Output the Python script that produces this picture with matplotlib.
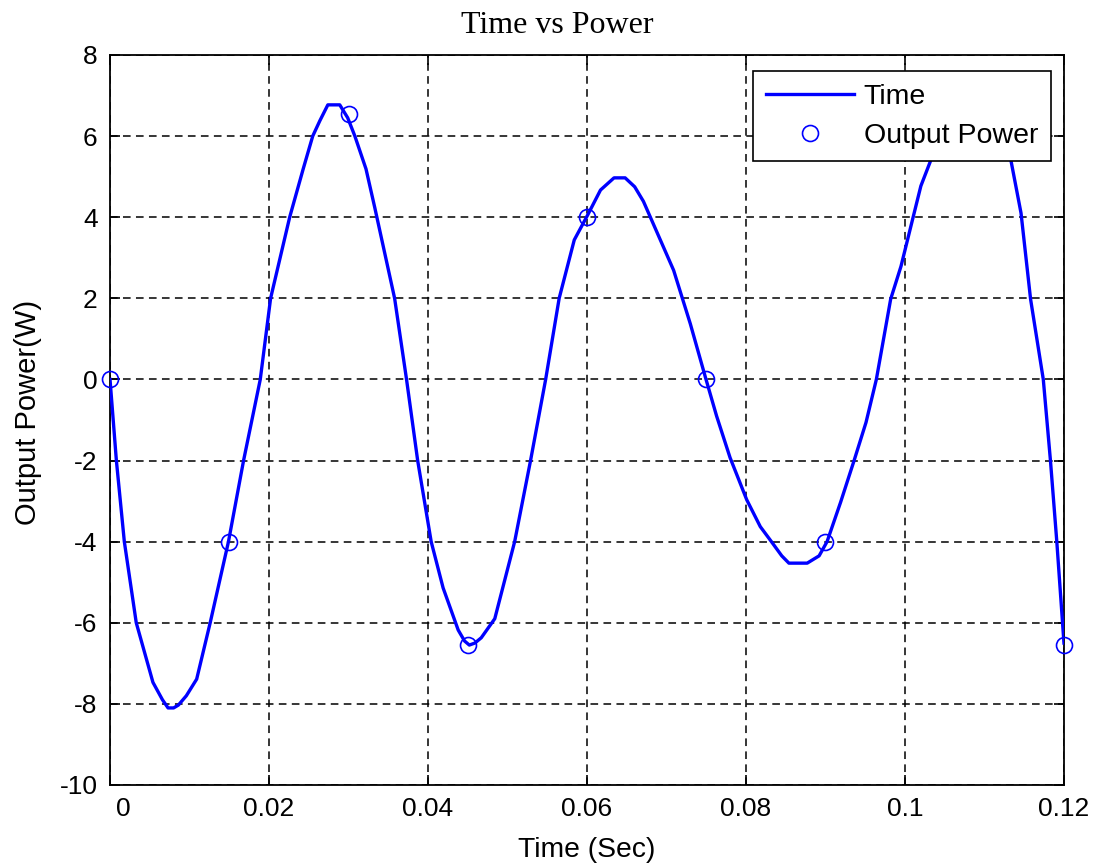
import matplotlib.pyplot as plt
import matplotlib.transforms as mtransforms

plt.rcParams.update({
    "font.family": "sans-serif", "font.sans-serif": ["Liberation Sans", "DejaVu Sans"],
    "font.size": 19, "axes.unicode_minus": False,
})

# curve (time in s, power in W)
curve_t = [0.0000, 0.0008, 0.0018, 0.0033, 0.0054, 0.0066, 0.0073, 0.0080, 0.0086,
           0.0096, 0.0109, 0.0126, 0.0149, 0.0168, 0.0189, 0.0202, 0.0226, 0.0243,
           0.0255, 0.0264, 0.0274, 0.0289, 0.0299, 0.0308, 0.0322, 0.0333, 0.0358,
           0.0373, 0.0387, 0.0404, 0.0419, 0.0438, 0.0446, 0.0452, 0.0459, 0.0467,
           0.0484, 0.0509, 0.0529, 0.0548, 0.0565, 0.0584, 0.0601, 0.0617, 0.0634,
           0.0648, 0.0660, 0.0671, 0.0688, 0.0709, 0.0730, 0.0749, 0.0763, 0.0780,
           0.0801, 0.0818, 0.0832, 0.0845, 0.0854, 0.0877, 0.0892, 0.0902, 0.0919,
           0.0936, 0.0951, 0.0964, 0.0982, 0.0995, 0.1010, 0.1020, 0.1033, 0.1045,
           0.1058, 0.1075, 0.1095, 0.1110, 0.1122, 0.1133, 0.1146, 0.1158, 0.1174,
           0.1183, 0.1191, 0.1200]
curve_p = [0.0, -2.0, -4.0, -6.0, -7.47, -7.9, -8.1, -8.1, -8.03,
           -7.8, -7.39, -6.0, -4.0, -2.0, 0.0, 2.0, 4.0, 5.19,
           6.0, 6.38, 6.77, 6.77, 6.45, 6.0, 5.19, 4.24, 2.0,
           0.0, -2.0, -4.0, -5.14, -6.18, -6.45, -6.55, -6.5, -6.37,
           -5.9, -4.0, -2.0, 0.0, 2.0, 3.44, 4.06, 4.67, 4.97,
           4.97, 4.75, 4.39, 3.63, 2.69, 1.37, 0.05, -0.9, -1.93,
           -2.97, -3.63, -4.0, -4.35, -4.53, -4.53, -4.35, -4.0, -3.03,
           -2.0, -1.06, 0.0, 1.98, 2.79, 3.98, 4.77, 5.43, 6.1,
           6.55, 6.8, 6.8, 6.5, 6.0, 5.43, 4.1, 1.98, 0.0,
           -2.0, -4.0, -6.5]

# sampled points (circles)
sample_t = [0, 0.015, 0.03, 0.045, 0.06, 0.075, 0.09, 0.105, 0.12]
sample_p = [0, -4, 6.55, -6.55, 4, 0, -4, 6.55, -6.55]

xticks = [0, 0.02, 0.04, 0.06, 0.08, 0.1, 0.12]
xtick_labels = ["0", "0.02", "0.04", "0.06", "0.08", "0.1", "0.12"]
yticks = list(range(-10, 9, 2))

fig = plt.figure(figsize=(10.98, 8.63), dpi=100)
ax = fig.add_axes([0.1002, 0.0904, 0.8688, 0.8459])

ax.plot(curve_t, curve_p, color="#0000ff", linewidth=2.4, label="Time", zorder=3)
ax.plot(sample_t, sample_p, linestyle="none", marker="o", markersize=11.5,
        markerfacecolor="none", markeredgecolor="#0000ff", markeredgewidth=1.2,
        label="Output Power", clip_on=False, zorder=4)

ax.set_xlim(0, 0.12)
ax.set_ylim(-10, 8)
ax.set_xticks(xticks)
ax.set_xticklabels(xtick_labels)
ax.set_yticks(yticks)
ax.tick_params(direction="in", top=True, right=True, length=7, width=1.2, pad=9)
for s in ax.spines.values():
    s.set_linewidth(1.3)
ax.grid(True, color="black", linestyle=(0, (5, 3.5)), linewidth=1.1)

# matlab draws the "0" label a bit right of the axis
lbl0 = ax.get_xticklabels()[0]
lbl0.set_transform(lbl0.get_transform() + mtransforms.ScaledTranslation(0.13, 0, fig.dpi_scale_trans))

ax.set_title("Time vs Power", family="Liberation Serif", fontsize=23, pad=16, x=0.4686)
ax.set_xlabel("Time (Sec)", fontsize=20.3, labelpad=11)
ax.set_ylabel("Output Power(W)", fontsize=21)
ax.yaxis.set_label_coords(-0.071, 0.51)

leg = ax.legend(loc="upper right", bbox_to_anchor=(0.9864, 0.978), fancybox=False,
                edgecolor="black", framealpha=1, borderpad=0.45, handlelength=3.1,
                handletextpad=0.35, labelspacing=0.45, borderaxespad=0, fontsize=20.5)
leg.get_frame().set_linewidth(1.2)
leg.set_zorder(10)

fig.savefig("out.png", dpi=100)
